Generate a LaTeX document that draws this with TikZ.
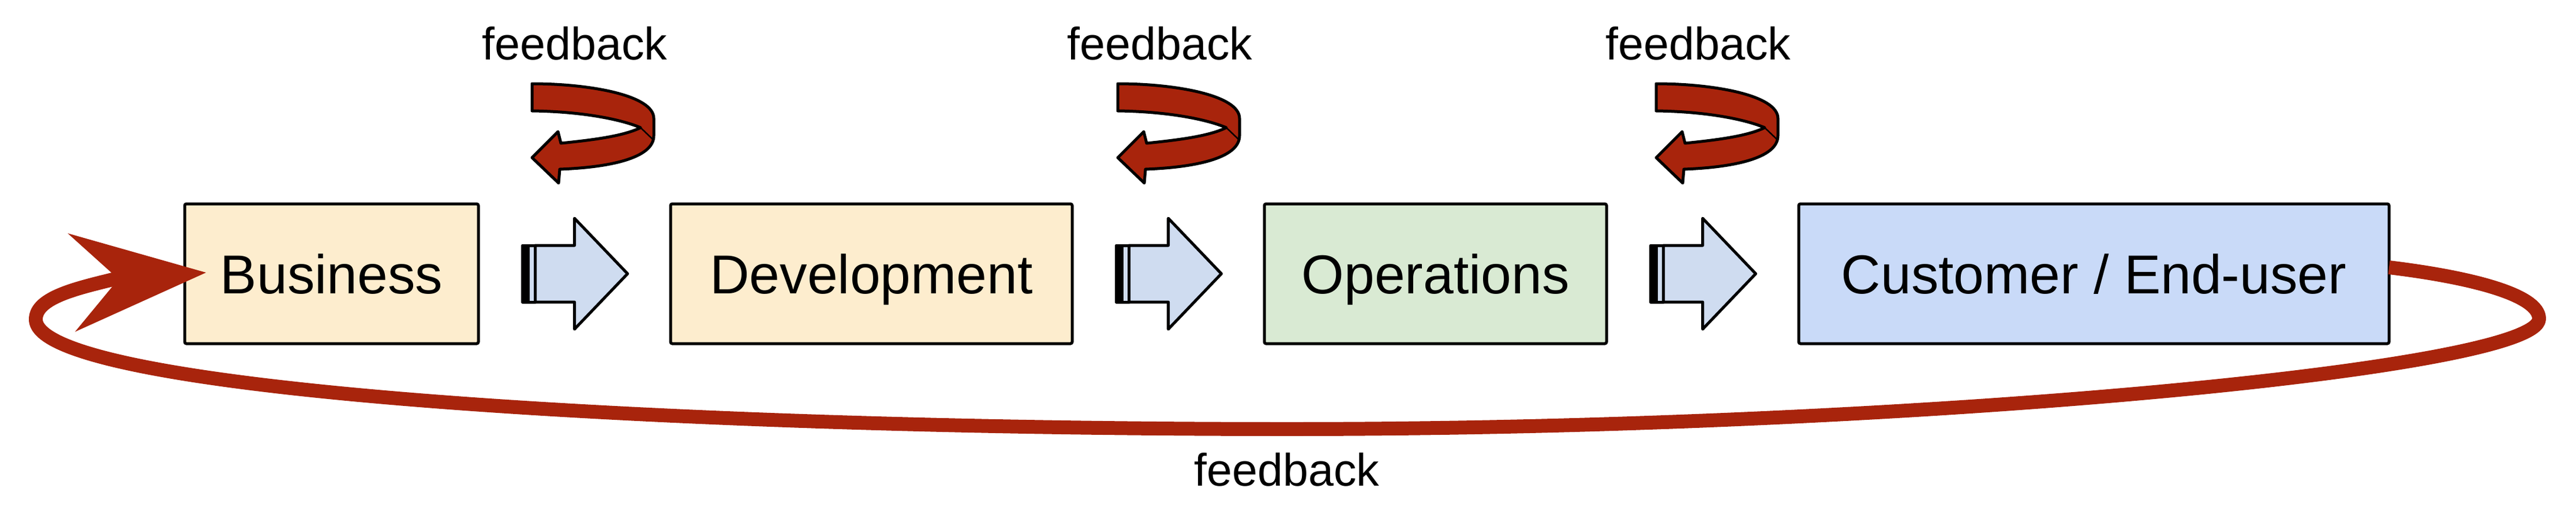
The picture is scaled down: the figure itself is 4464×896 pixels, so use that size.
\documentclass[tikz,border=0pt]{standalone}
\usepackage{fontspec}
\setmainfont{Liberation Sans}
\usetikzlibrary{arrows.meta,calc}

\definecolor{bizfill}{HTML}{FDEDCE}
\definecolor{opsfill}{HTML}{D9EAD3}
\definecolor{custfill}{HTML}{C9DAF8}
\definecolor{flowblue}{HTML}{CFDCF0}
\definecolor{loopred}{HTML}{A8240C}

\begin{document}
\begin{tikzpicture}[x=0.1mm, y=-0.1mm,
  stage/.style={draw=black, line width=0.5mm, rounded corners=0.3mm, inner sep=0pt, outer sep=0pt,
    minimum height=24.2mm, text height=6.8mm, text depth=0pt, font=\fontsize{27pt}{32pt}\selectfont},
  fblabel/.style={anchor=base, inner sep=0pt, font=\fontsize{22.5pt}{27pt}\selectfont},
  feedloop/.style={draw=loopred, line width=2.4mm, line join=round,
    -{Stealth[length=23.4mm, width=17.1mm, inset=8.2mm, line width=0pt]}},
  pics/flowarrow/.style={code={
    \filldraw[fill=black, line width=0.5mm, line join=round] (-90,-49) rectangle (-80,49);
    \filldraw[fill=flowblue, line width=0.5mm, line join=round] (-80,-49) rectangle (-68,49);
    \filldraw[fill=flowblue, line width=0.5mm, line join=round] (-68,-49) -- (0,-49) -- (0,-96) -- (92,0)
      -- (0,96) -- (0,49) -- (-68,49) -- cycle;
  }},
  pics/uturn/.style={code={
    \filldraw[fill=loopred, line width=0.5mm, line join=round] (0,0) .. controls (100,0) and (211,20) .. (211,60)
      -- (211,90) .. controls (211,130) and (130,145) .. (48,148) -- (46,172) -- (0,128) -- (45,83) -- (50,103)
      .. controls (110,97) and (160,90) .. (188,76) .. controls (150,60) and (80,48) .. (0,47) -- cycle;
    \draw[line width=0.25mm] (188,76) -- (209,96);
  }}]

\useasboundingbox (0,0) rectangle (4464,896);

\node[stage, fill=bizfill, minimum width=50.9mm] (bus) at (574.5,474) {Business};
\node[stage, fill=bizfill, minimum width=69.6mm] (dev) at (1510,474) {Development};
\node[stage, fill=opsfill, minimum width=59.3mm] (ops) at (2487.5,474) {Operations};
\node[stage, fill=custfill, minimum width=102.3mm] (cust) at (3628.5,474) {Customer / End-user};

\pic at ($(bus.east)!0.5!(dev.west)$) {flowarrow};
\pic at ($(dev.east)!0.5!(ops.west)$) {flowarrow};
\pic at ($(ops.east)!0.5!(cust.west)$) {flowarrow};

\node[fblabel] (fb1) at (996,103) {feedback};
\node[fblabel] (fb2) at (2010,103) {feedback};
\node[fblabel] (fb3) at (2943,103) {feedback};
\pic (turn1) at (922,145) {uturn};
\pic (turn2) at (1937,145) {uturn};
\pic (turn3) at (2870,145) {uturn};

\draw[feedloop] ($(cust.east)+(0,-11)$) .. controls (4280,480) and (4400,510) .. (4400,552)
  .. controls (4400,640) and (3300,743) .. (2233,743)
  .. controls (1200,743) and (62,680) .. (62,553)
  .. controls (62,515) and (135,499) .. (195,484)
  -- ($(bus.west)+(37,-2)$);
\node[fblabel] (fbloop) at (2230,841) {feedback};

\end{tikzpicture}
\end{document}
